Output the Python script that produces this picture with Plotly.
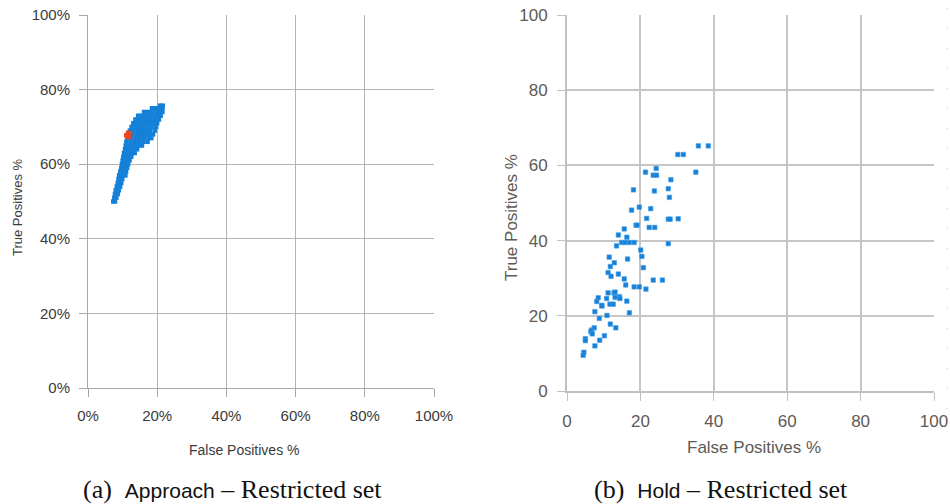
import plotly.graph_objects as go

# ---------------- data ----------------
# (a) Approach - Restricted set : dense cloud, given row by row (TP level -> FP values), in %
approach_row_tp = [50, 51, 52, 53, 54, 55, 56, 57, 58, 59, 60, 61, 62, 63, 64, 65,
                   66, 67, 68, 69, 70, 71, 72, 73, 74, 75, 75.7]
approach_row_fp = [
    [7.3, 7.8],
    [7.6, 8.2],
    [7.8, 8.6],
    [8.0, 8.9],
    [8.3, 9.3],
    [8.6, 9.6],
    [8.8, 9.9],
    [9.0, 10.2, 10.8],
    [9.3, 10.4, 11.0],
    [9.6, 10.6, 11.3],
    [9.8, 10.8, 11.6],
    [10.0, 11.0, 12.0],
    [10.2, 11.3, 12.5],
    [10.4, 11.6, 12.8, 13.5],
    [10.7, 11.9, 13.1, 14.2],
    [10.9, 12.1, 13.3, 14.5, 15.6],
    [11.1, 12.3, 13.5, 14.8, 16.0, 17.2],
    [11.4, 12.6, 13.8, 15.1, 16.3, 17.5, 18.3],
    [11.7, 12.9, 14.1, 15.3, 16.5, 17.7, 18.8],
    [12.1, 13.2, 14.4, 15.6, 16.8, 18.0, 19.3],
    [12.6, 13.7, 14.8, 16.0, 17.2, 18.4, 19.7],
    [13.1, 14.2, 15.3, 16.4, 17.6, 18.8, 20.0],
    [13.7, 14.8, 15.9, 17.0, 18.1, 19.3, 20.5],
    [14.5, 15.6, 16.7, 17.8, 18.9, 20.0, 21.0],
    [16.2, 17.4, 18.6, 19.8, 20.8, 21.5],
    [18.5, 19.6, 20.7, 21.5],
    [20.8, 21.6],
]
# highlighted (red) configurations in panel (a)
approach_sel_fp = [11.2, 11.8, 12.2, 11.5, 12.0, 11.0]
approach_sel_tp = [67.3, 67.9, 68.3, 68.5, 67.2, 67.8]

# (b) Hold - Restricted set
hold_fp = [35.8, 38.5, 30.2, 31.7, 24.3, 21.4, 23.5, 24.4, 35.1, 28.3,
           18.1, 23.8, 27.6, 27.9, 19.7, 17.6, 22.8, 21.7, 27.6, 28.1,
           30.3, 18.8, 19.1, 22.4, 23.9, 15.6, 14.0, 16.3, 14.9, 15.8,
           17.0, 18.3, 13.5, 27.6, 20.1, 20.4, 11.5, 16.5, 12.9, 11.8,
           20.8, 11.2, 12.0, 14.0, 15.6, 23.5, 26.0, 16.0, 18.3, 19.7,
           21.5, 11.2, 12.8, 13.1, 8.5, 10.8, 13.1, 14.3, 14.4, 8.1,
           9.5, 9.5, 11.7, 12.6, 16.3, 7.6, 10.9, 17.0, 8.8, 11.8,
           13.3, 7.4, 6.7, 6.5, 6.9, 10.2, 5.0, 5.0, 8.9, 7.6,
           4.6, 4.4]
hold_tp = [65.2, 65.2, 62.9, 62.9, 59.2, 58.2, 57.4, 57.4, 58.2, 56.2,
           53.5, 53.2, 53.8, 51.5, 48.9, 48.1, 48.5, 45.9, 45.7, 45.7,
           45.8, 44.1, 44.1, 43.5, 43.5, 43.1, 41.5, 40.9, 39.5, 39.5,
           39.5, 39.5, 38.6, 39.2, 37.5, 35.8, 35.6, 35.1, 34.1, 33.1,
           32.8, 31.5, 30.5, 31.1, 29.8, 29.5, 29.5, 28.2, 27.7, 27.7,
           27.1, 26.1, 26.1, 26.3, 24.8, 24.6, 24.9, 25.1, 24.6, 23.8,
           22.8, 22.6, 23.1, 23.1, 23.9, 21.1, 20.1, 20.8, 19.3, 17.8,
           16.8, 16.8, 16.2, 15.8, 15.2, 14.7, 13.9, 13.4, 13.5, 12.0,
           10.3, 9.5]

tick_vals = [0, 20, 40, 60, 80, 100]
tick_text_pct = ["0%", "20%", "40%", "60%", "80%", "100%"]
tick_text_num = ["0", "20", "40", "60", "80", "100"]

approach_fp = [fp for row in approach_row_fp for fp in row]
approach_tp = [tp for tp, row in zip(approach_row_tp, approach_row_fp) for _ in row]

# ---------------- figure ----------------
W, H = 950, 504
BLUE = "#1580d8"
RED = "#e8461e"


def px_x(p):
    return p / W


def px_y(p):
    return 1 - p / H


fig = go.Figure()
fig.add_trace(go.Scatter(x=approach_fp, y=approach_tp, mode="markers",
                         marker=dict(symbol="square", size=4.5, color=BLUE),
                         xaxis="x", yaxis="y", showlegend=False))
fig.add_trace(go.Scatter(x=approach_sel_fp, y=approach_sel_tp, mode="markers",
                         marker=dict(symbol="square", size=4, color=RED),
                         xaxis="x", yaxis="y", showlegend=False))
fig.add_trace(go.Scatter(x=hold_fp, y=hold_tp, mode="markers",
                         marker=dict(symbol="square", size=4.5, color=BLUE,
                                     line=dict(width=0.6, color="#4aa0e6")),
                         xaxis="x2", yaxis="y2", showlegend=False))

font_sans = "Liberation Sans, Arial, sans-serif"
font_serif = "Liberation Serif, DejaVu Serif, serif"

left_axis = dict(range=[0, 100], tickvals=tick_vals, showgrid=True,
                 gridcolor="#b4b4b4", gridwidth=1, zeroline=False,
                 showline=True, linecolor="#a8a8a8", linewidth=1,
                 ticks="outside", ticklen=8, tickcolor="#a8a8a8",
                 tickfont=dict(family=font_sans, size=15, color="#3a3a3a"),
                 fixedrange=True, automargin=False)
right_axis = dict(range=[0, 100], tickvals=tick_vals, showgrid=True,
                  gridcolor="#c6c6c6", gridwidth=2, zeroline=False,
                  showline=True, linecolor="#c0c0c0", linewidth=2,
                  ticks="outside", ticklen=8, tickcolor="#c0c0c0",
                  tickfont=dict(family=font_sans, size=17, color="#5e5a55"),
                  fixedrange=True, automargin=False)

fig.update_layout(
    width=W, height=H,
    margin=dict(l=0, r=0, t=0, b=0, autoexpand=False),
    paper_bgcolor="white", plot_bgcolor="white",
    xaxis=dict(left_axis, domain=[px_x(88), px_x(434)], anchor="y",
               ticktext=tick_text_pct, ticklabelstandoff=6),
    yaxis=dict(left_axis, domain=[px_y(388), px_y(15)], anchor="x",
               ticktext=tick_text_pct, ticklabelstandoff=6),
    xaxis2=dict(right_axis, domain=[px_x(567), px_x(934)], anchor="y2",
                ticktext=tick_text_num, ticklabelstandoff=6),
    yaxis2=dict(right_axis, domain=[px_y(391), px_y(15)], anchor="x2",
                ticktext=tick_text_num, ticklabelstandoff=6),
)

sans_span = "<span style='font-family:Liberation Sans;font-size:21px'>{}</span>"
annotations = [
    dict(text="False Positives %", x=px_x(244), y=px_y(450),
         font=dict(family=font_sans, size=14, color="#3a3a3a")),
    dict(text="True Positives %", x=px_x(17), y=px_y(208), textangle=-90,
         font=dict(family=font_sans, size=13, color="#3a3a3a")),
    dict(text="False Positives %", x=px_x(754), y=px_y(447),
         font=dict(family=font_sans, size=17, color="#5e5a55")),
    dict(text="True Positives %", x=px_x(511), y=px_y(218), textangle=-90,
         font=dict(family=font_sans, size=17, color="#5e5a55")),
    dict(text="(a)\u00a0 " + sans_span.format("Approach") + " \u2013 Restricted set",
         x=px_x(232), y=px_y(489),
         font=dict(family=font_serif, size=26, color="#111111")),
    dict(text="(b)\u00a0 " + sans_span.format("Hold") + " \u2013 Restricted set",
         x=px_x(721), y=px_y(489),
         font=dict(family=font_serif, size=26, color="#111111")),
]
for a in annotations:
    a.update(xref="paper", yref="paper", showarrow=False,
             xanchor="center", yanchor="middle")
fig.update_layout(annotations=annotations)

# faint dotted border remnant at the far right edge of the picture
fig.add_shape(type="line", xref="paper", yref="paper",
              x0=px_x(947), x1=px_x(947), y0=px_y(8), y1=px_y(420),
              line=dict(color="#c8c8c8", width=1, dash="1px,19px"))

fig.write_html("out.html")
